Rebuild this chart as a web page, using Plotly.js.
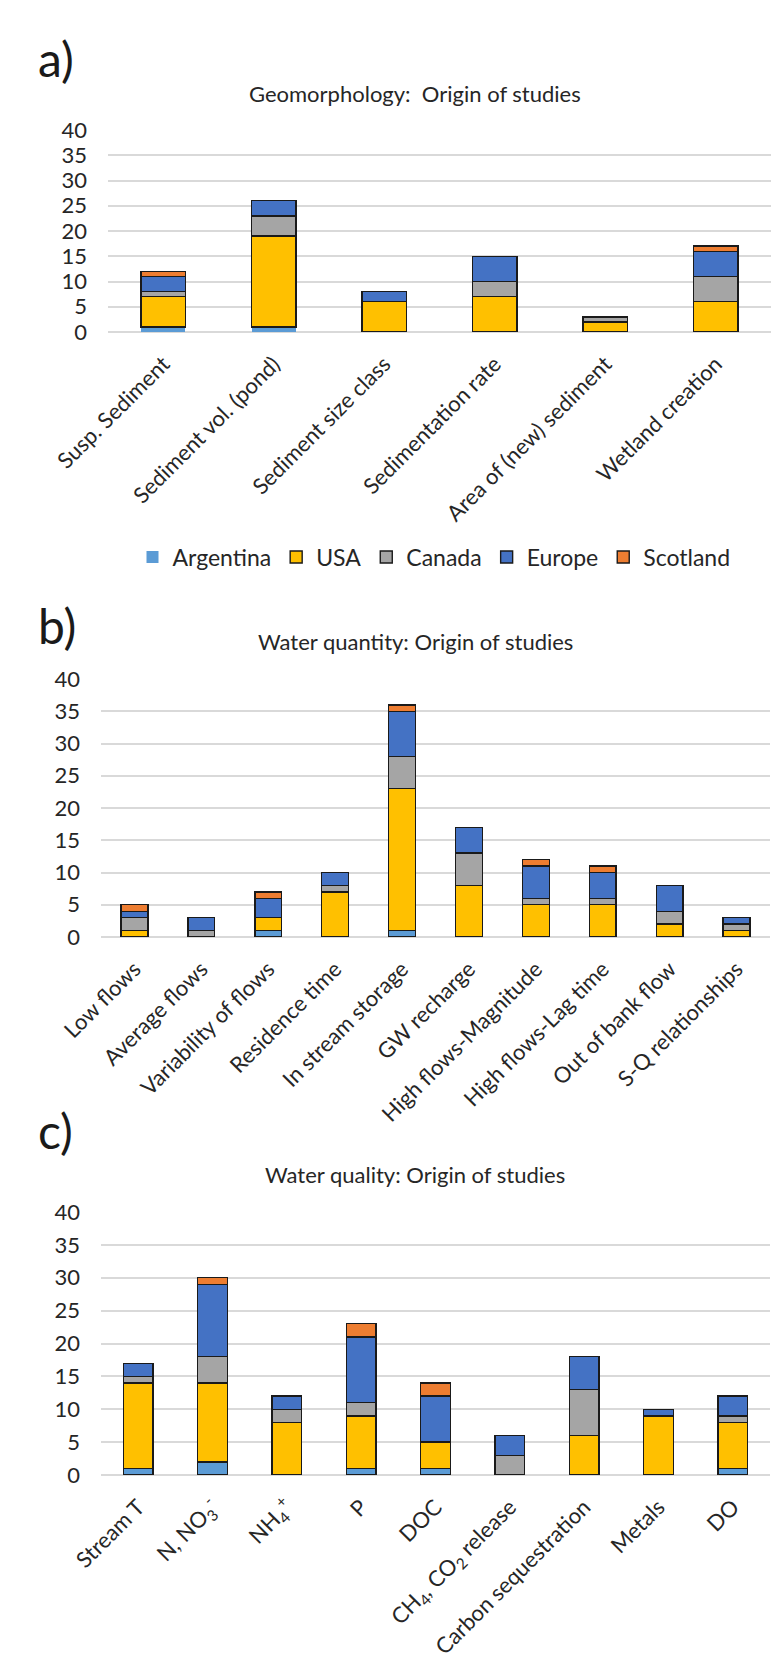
<!DOCTYPE html>
<html>
<head>
<meta charset="utf-8">
<script src="https://cdn.plot.ly/plotly-3.0.1.min.js"></script>
<style>
  html, body { margin: 0; padding: 0; background: #ffffff; }
  #chart { width: 779px; height: 1664px; }
</style>
</head>
<body>
<div id="chart"></div>
<script>
// ---------- DATA ----------
const countries = ["Argentina", "USA", "Canada", "Europe", "Scotland"];
const countryColors = ["#5B9BD5", "#FFC000", "#A5A5A5", "#4472C4", "#ED7D31"];

// Panel a) Geomorphology
const geoCategories = ["Susp. Sediment", "Sediment vol. (pond)", "Sediment size class",
  "Sedimentation rate", "Area of (new) sediment", "Wetland creation"];
const geoArgentina = [1, 1, 0, 0, 0, 0];
const geoUSA       = [6, 18, 6, 7, 2, 6];
const geoCanada    = [1, 4, 0, 3, 1, 5];
const geoEurope    = [3, 3, 2, 5, 0, 5];
const geoScotland  = [1, 0, 0, 0, 0, 1];

// Panel b) Water quantity
const wqnCategories = ["Low flows", "Average flows", "Variability of flows", "Residence time",
  "In stream storage", "GW recharge", "High flows-Magnitude", "High flows-Lag time",
  "Out of bank flow", "S-Q relationships"];
const wqnArgentina = [0, 0, 1, 0, 1, 0, 0, 0, 0, 0];
const wqnUSA       = [1, 0, 2, 7, 22, 8, 5, 5, 2, 1];
const wqnCanada    = [2, 1, 0, 1, 5, 5, 1, 1, 2, 1];
const wqnEurope    = [1, 2, 3, 2, 7, 4, 5, 4, 4, 1];
const wqnScotland  = [1, 0, 1, 0, 1, 0, 1, 1, 0, 0];

// Panel c) Water quality
const wqlCategories = ["Stream T", "N, NO<sub>3</sub><sup>-</sup>", "NH<sub>4</sub><sup>+</sup>", "P", "DOC",
  "CH<sub>4</sub>, CO<sub>2</sub> release", "Carbon sequestration", "Metals", "DO"];
const wqlArgentina = [1, 2, 0, 1, 1, 0, 0, 0, 1];
const wqlUSA       = [13, 12, 8, 8, 4, 0, 6, 9, 7];
const wqlCanada    = [1, 4, 2, 2, 0, 3, 7, 0, 1];
const wqlEurope    = [2, 11, 2, 10, 7, 3, 5, 1, 3];
const wqlScotland  = [0, 1, 0, 2, 2, 0, 0, 0, 0];

const panelTitles = ["Geomorphology:  Origin of studies", "Water quantity: Origin of studies", "Water quality: Origin of studies"];
const panelLetters = ["a)", "b)", "c)"];
const yTickVals = [0, 5, 10, 15, 20, 25, 30, 35, 40];

// ---------- BUILD ----------
const FONT = "Lato, 'Open Sans', sans-serif";
const W = 779, H = 1664;
const px = v => v / W;
const py = v => 1 - v / H;

const panels = [
  { cats: geoCategories, series: [geoArgentina, geoUSA, geoCanada, geoEurope, geoScotland], ax: "", legend: true, argLine: 0 },
  { cats: wqnCategories, series: [wqnArgentina, wqnUSA, wqnCanada, wqnEurope, wqnScotland], ax: "2", legend: false, argLine: 1.4 },
  { cats: wqlCategories, series: [wqlArgentina, wqlUSA, wqlCanada, wqlEurope, wqlScotland], ax: "3", legend: false, argLine: 1.4 }
];

const traces = [];
panels.forEach(p => {
  p.series.forEach((vals, i) => {
    traces.push({
      type: "bar",
      name: countries[i],
      x: p.cats,
      y: vals,
      xaxis: "x" + p.ax,
      yaxis: "y" + p.ax,
      showlegend: p.legend,
      marker: {
        color: countryColors[i],
        line: { color: "#1a1a1a", width: i === 0 ? p.argLine : 1.4 }
      },
      hoverinfo: "x+y+name"
    });
  });
});

// geometry (pixels)
const geom = [
  { x0: 108, x1: 771, y0: 130, y1: 332, title: 93, letter: 58 },
  { x0: 101, x1: 770, y0: 679, y1: 937, title: 641, letter: 625 },
  { x0: 101, x1: 770, y0: 1212, y1: 1475, title: 1174, letter: 1130 }
];

const layout = {
  width: W, height: H,
  margin: { l: 0, r: 0, t: 0, b: 0, pad: 0 },
  paper_bgcolor: "#ffffff",
  plot_bgcolor: "#ffffff",
  barmode: "stack",
  bargap: 0.6,
  font: { family: FONT, color: "#262626", size: 22 },
  showlegend: true,
  legend: {
    orientation: "h",
    x: px(434), xanchor: "center",
    y: py(557), yanchor: "middle",
    traceorder: "normal",
    font: { family: FONT, size: 23, color: "#262626" },
    itemwidth: 30
  },
  annotations: []
};

geom.forEach((g, k) => {
  const s = k === 0 ? "" : String(k + 1);
  layout["xaxis" + s] = {
    domain: [px(g.x0), px(g.x1)],
    anchor: "y" + s,
    tickangle: -45,
    tickfont: { family: FONT, size: 22, color: "#262626" },
    showgrid: false,
    showline: false,
    ticks: "",
    ticklabelstandoff: 14,
    fixedrange: true
  };
  layout["yaxis" + s] = {
    domain: [py(g.y1), py(g.y0)],
    anchor: "x" + s,
    range: [0, 40],
    tickvals: yTickVals,
    tickfont: { family: FONT, size: 22, color: "#262626" },
    showgrid: true,
    gridcolor: "#d9d9d9",
    gridwidth: 2,
    zeroline: true,
    zerolinecolor: "#d9d9d9",
    zerolinewidth: 2,
    showline: false,
    ticks: "",
    ticklabelstandoff: 20,
    fixedrange: true
  };
  layout.annotations.push({
    xref: "paper", yref: "paper",
    x: px(415), y: py(g.title), xanchor: "center", yanchor: "middle",
    text: panelTitles[k], showarrow: false,
    font: { family: FONT, size: 22, color: "#262626" }
  });
  layout.annotations.push({
    xref: "paper", yref: "paper",
    x: px(36), y: py(g.letter), xanchor: "left", yanchor: "middle",
    text: panelLetters[k], showarrow: false,
    font: { family: FONT, size: 48, color: "#1a1a1a" }
  });
});

Plotly.newPlot("chart", traces, layout, { displayModeBar: false, staticPlot: true });
</script>
</body>
</html>
